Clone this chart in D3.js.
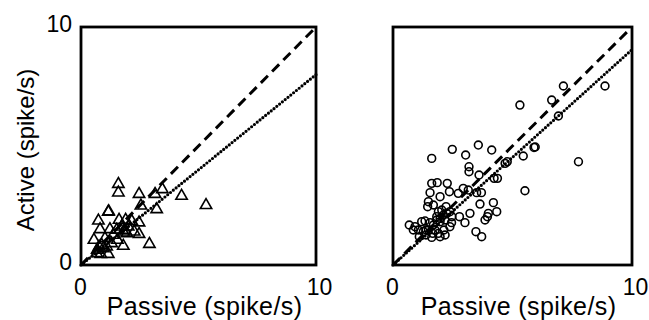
<!DOCTYPE html>
<html>
<head>
<meta charset="utf-8">
<script src="https://cdn.jsdelivr.net/npm/d3@7"></script>
<style>
  body { margin: 0; background: #fff; }
  text { font-family: "Liberation Sans", Arial, Helvetica, sans-serif; fill: #000; }
</style>
</head>
<body>
<svg></svg>
<script>
// passive vs active firing rates, spike/s
var leftPassive = [1.59,1.59,2.47,3.15,3.46,4.28,5.32,2.55,3.22,1.16,0.74,1.62,1.90,2.16,2.47,0.81,1.23,1.52,1.87,2.26,
                   2.47,0.55,1.02,1.55,1.80,2.91,0.88,0.69,1.16,0.84,1.30,1.80,2.01,0.95,0.67,1.37,1.73,1.09,0.77,1.95,1.18];
var leftActive  = [3.40,3.04,2.98,2.98,3.18,2.90,2.51,2.49,2.34,2.23,1.86,1.89,1.89,1.84,1.78,1.50,1.50,1.47,1.47,1.40,
                   1.30,1.05,1.12,1.05,0.80,0.88,0.84,0.63,0.46,0.46,0.91,1.40,1.61,0.70,0.49,1.26,1.61,0.77,0.77,1.33,2.25];

var rightPassive = [8.87,7.13,6.64,6.92,5.31,7.76,5.90,5.95,5.45,4.69,4.78,5.52,4.13,3.57,3.04,2.48,1.62,3.18,3.18,3.60,
                    4.23,4.37,1.62,1.85,2.27,1.55,1.97,2.36,2.73,2.94,3.15,3.50,3.70,1.48,1.69,1.45,2.22,1.90,2.38,2.11,
                    3.22,3.64,4.20,4.34,3.99,3.95,3.85,3.01,2.78,2.46,3.47,3.71,0.68,0.92,1.20,1.34,1.55,1.83,1.97,1.06,
                    1.27,1.10,1.38,1.62,1.97,2.18,2.13,2.38,2.45,1.76,1.69,1.97,2.18,1.83,1.48,0.85,1.66,1.90,2.25,2.04,1.38];
var rightActive  = [7.52,7.52,6.93,6.26,6.72,4.34,4.94,4.96,4.58,4.27,4.34,3.12,4.83,5.04,4.62,4.86,4.48,4.13,3.92,3.78,
                    3.64,3.64,3.43,3.46,3.43,3.04,2.87,3.08,3.01,3.22,3.15,3.04,3.04,2.66,2.52,2.45,2.45,2.24,2.24,2.10,
                    2.17,2.56,2.62,2.24,2.17,2.03,1.89,1.78,2.03,2.03,1.40,1.19,1.68,1.61,1.82,1.85,1.78,1.89,1.82,1.47,
                    1.40,1.19,1.26,1.16,1.19,1.26,1.47,1.61,1.78,1.47,1.68,1.96,1.89,2.03,1.47,1.47,1.33,1.33,2.17,2.31,1.47];

var tickValues = [0, 10];
var unityLine = [0, 10];
var leftFit = [0, 8.0];    // dotted regression, value at passive = 10
var rightFit = [0, 9.05];

var width = 649, height = 320;

var svg = d3.select("svg")
  .attr("width", width)
  .attr("height", height);

var drawPanel = function(x0, x1, px, py, fitY, shape, showY){
  var x = d3.scaleLinear().domain([0, 10]).range([x0, x1]);
  var y = d3.scaleLinear().domain([0, 10]).range([265, 27]);
  var g = svg.append("g");

  // unity line (dashed)
  g.append("line")
    .attr("x1", x(unityLine[0])).attr("y1", y(unityLine[0]))
    .attr("x2", x(unityLine[1])).attr("y2", y(unityLine[1]))
    .attr("stroke", "#000").attr("stroke-width", 3)
    .attr("stroke-dasharray", "10,6");

  // fit line (dotted)
  g.append("line")
    .attr("x1", x(0)).attr("y1", y(fitY[0]))
    .attr("x2", x(10)).attr("y2", y(fitY[1]))
    .attr("stroke", "#000").attr("stroke-width", 3.2)
    .attr("stroke-linecap", "round")
    .attr("stroke-dasharray", "0,3.6");

  var pts = px.map(function(d, i){ return [d, py[i]]; });
  if (shape == "tri") {
    g.selectAll("path.pt")
      .data(pts)
      .enter()
      .append("path")
      .attr("class", "pt")
      .attr("d", d3.symbol().type(d3.symbolTriangle).size(56))
      .attr("transform", function(d){ return "translate(" + x(d[0]) + "," + y(d[1]) + ")"; })
      .attr("fill", "none")
      .attr("stroke", "#000")
      .attr("stroke-width", 1.6);
  } else {
    g.selectAll("circle")
      .data(pts)
      .enter()
      .append("circle")
      .attr("cx", function(d){ return x(d[0]); })
      .attr("cy", function(d){ return y(d[1]); })
      .attr("r", 3.9)
      .attr("fill", "none")
      .attr("stroke", "#000")
      .attr("stroke-width", 1.6);
  }

  // frame
  g.append("rect")
    .attr("x", x(0)).attr("y", y(10))
    .attr("width", x(10) - x(0)).attr("height", y(0) - y(10))
    .attr("fill", "none").attr("stroke", "#000").attr("stroke-width", 2.8);

  var xAxis = g.append("g")
    .attr("transform", "translate(0,295)")
    .call(d3.axisBottom(x).tickValues(tickValues).tickSize(0).tickPadding(0));
  xAxis.select(".domain").remove();
  xAxis.selectAll("text")
    .attr("dy", 0).attr("y", 0)
    .attr("dx", function(d){ return d == 10 ? 3 : -1; })
    .attr("font-size", 23)
    .attr("font-family", null);

  if (showY) {
    var yAxis = g.append("g")
      .attr("transform", "translate(72,4.5)")
      .call(d3.axisLeft(y).tickValues(tickValues).tickSize(0).tickPadding(0));
    yAxis.select(".domain").remove();
    yAxis.selectAll("text")
      .attr("dy", 0).attr("x", 0)
      .attr("font-size", 23)
      .attr("font-family", null);

    g.append("text")
      .attr("transform", "translate(34," + 150 + ") rotate(-90)")
      .attr("text-anchor", "middle")
      .attr("font-size", 24)
      .text("Active (spike/s)");
  }

  g.append("text")
    .attr("x", x(5) + 6)
    .attr("y", 315)
    .attr("text-anchor", "middle")
    .attr("font-size", 25)
    .attr("letter-spacing", 0.4)
    .text("Passive (spike/s)");
};

drawPanel(81, 316, leftPassive, leftActive, leftFit, "tri", true);
drawPanel(393, 632, rightPassive, rightActive, rightFit, "circle", false);
</script>
</body>
</html>
